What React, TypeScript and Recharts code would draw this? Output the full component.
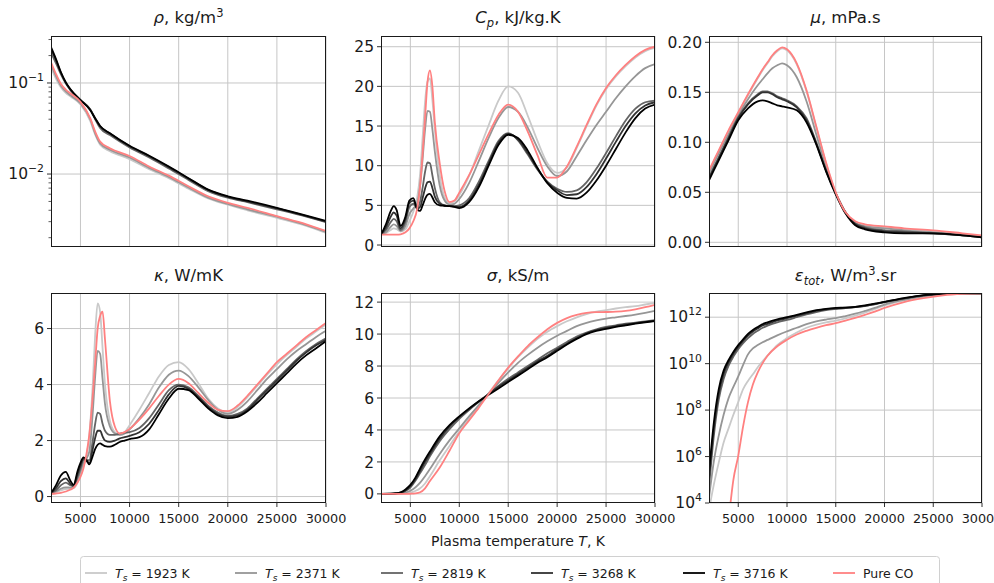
import React from 'react';
import { LineChart, Line, XAxis, YAxis, CartesianGrid } from 'recharts';

const FONT = "'DejaVu Sans', sans-serif";
const TXT = '#1a1a1a';
const GRID = '#c6c6c6';

const seriesKeys = ['s1923', 's2371', 's2819', 's3268', 's3716', 'pure'];
const seriesColors = ['#c9c9c9', '#969696', '#646464', '#323232', '#000000', '#ff8080'];
const surfaceTemps = ['1923', '2371', '2819', '3268', '3716'];
const xTicks = [5000, 10000, 15000, 20000, 25000, 30000];
const xDomain = [2000, 30000];

// ---- density rho, kg/m3 ----
const rhoT = [2000, 2500, 3000, 3500, 4000, 5000, 6000, 6500, 7000, 8000, 10000, 12000, 14000, 16000, 18000, 20000, 22000, 25000, 28000, 30000];
const rho1923 = [0.148, 0.112, 0.09, 0.078, 0.071, 0.058, 0.038, 0.027, 0.021, 0.0178, 0.0146, 0.0113, 0.009, 0.0069, 0.0054, 0.0046, 0.004, 0.0033, 0.0027, 0.00225];
const rho2371 = [0.16, 0.12, 0.094, 0.081, 0.073, 0.06, 0.04, 0.028, 0.0218, 0.0185, 0.0152, 0.0117, 0.0093, 0.0071, 0.0055, 0.0047, 0.0041, 0.0034, 0.00275, 0.00232];
const rho2819 = [0.215, 0.165, 0.125, 0.099, 0.083, 0.065, 0.051, 0.04, 0.032, 0.0268, 0.0196, 0.0152, 0.0115, 0.0086, 0.0065, 0.0055, 0.0049, 0.0041, 0.0034, 0.00295];
const rho3268 = [0.235, 0.178, 0.13, 0.101, 0.084, 0.065, 0.051, 0.041, 0.0335, 0.0278, 0.0202, 0.0157, 0.0119, 0.0089, 0.0067, 0.0056, 0.005, 0.0042, 0.00345, 0.003];
const rho3716 = [0.247, 0.184, 0.132, 0.102, 0.0846, 0.0647, 0.0503, 0.0408, 0.0337, 0.028, 0.0204, 0.0159, 0.0121, 0.009, 0.00675, 0.0057, 0.0051, 0.00426, 0.0035, 0.00305];
const rhoPure = [0.169, 0.126, 0.098, 0.0846, 0.0765, 0.062, 0.0408, 0.0292, 0.0227, 0.0192, 0.0158, 0.0121, 0.0096, 0.00733, 0.0057, 0.00483, 0.00426, 0.00345, 0.0028, 0.00237];

// ---- heat capacity Cp, kJ/kg.K ----
const cpT = [2000, 2500, 3000, 3300, 3600, 4000, 4500, 4900, 5300, 5700, 6000, 6250, 6500, 6750, 7000, 7250, 7500, 8000, 8500, 9000, 9500, 10000, 11000, 12000, 13000, 14000, 15000, 16000, 17000, 18000, 19000, 20000, 21000, 22000, 23000, 24000, 25000, 26000, 27000, 28000, 29000, 30000];
const cp1923 = [1.35, 1.5, 1.9, 2.1, 2.0, 1.7, 2.0, 3.0, 4.2, 6.0, 9.0, 13.5, 18.0, 20.6, 21.0, 18.3, 14.5, 8.8, 6.0, 5.3, 5.5, 6.3, 8.7, 11.9, 15.1, 18.2, 20.0, 19.2, 16.3, 13.1, 10.3, 9.1, 9.8, 12.25, 14.95, 17.55, 19.65, 21.25, 22.55, 23.65, 24.45, 24.85];
const cp2371 = [1.35, 1.6, 2.3, 2.6, 2.4, 1.8, 2.4, 3.9, 4.6, 5.3, 7.5, 10.8, 14.5, 16.9, 16.8, 14.6, 11.8, 7.5, 5.6, 5.1, 5.2, 5.8, 7.8, 10.6, 13.5, 16.0, 17.4, 16.8, 14.8, 12.2, 9.9, 8.7, 9.3, 11.2, 13.2, 15.1, 16.8, 18.5, 20.0, 21.3, 22.3, 22.8];
const cp2819 = [1.35, 1.9, 2.9, 3.3, 3.0, 1.9, 2.9, 4.8, 5.2, 4.7, 5.5, 7.2, 9.2, 10.4, 10.3, 8.8, 7.2, 5.4, 5.0, 4.9, 4.9, 5.0, 5.9, 8.0, 10.6, 13.1, 14.1, 13.2, 11.4, 9.5, 8.0, 7.1, 6.7, 6.9, 7.9, 9.6, 11.6, 13.7, 15.7, 17.2, 18.0, 18.2];
const cp3268 = [1.35, 2.2, 3.6, 4.1, 3.7, 2.1, 3.3, 5.3, 5.6, 4.6, 4.8, 5.9, 7.1, 7.9, 8.0, 7.2, 6.1, 5.2, 4.95, 4.9, 4.85, 4.8, 5.6, 7.6, 10.3, 12.9, 14.0, 13.3, 11.6, 9.6, 7.9, 6.9, 6.3, 6.4, 7.3, 8.9, 10.9, 13.0, 15.0, 16.6, 17.6, 18.0];
const cp3716 = [1.3, 2.6, 4.3, 4.9, 4.4, 2.4, 3.6, 5.6, 5.9, 4.5, 4.3, 5.0, 5.8, 6.35, 6.45, 6.0, 5.4, 5.0, 4.95, 4.9, 4.8, 4.65, 5.4, 7.3, 10.0, 12.6, 13.9, 13.5, 11.9, 9.7, 7.8, 6.6, 5.95, 5.85, 6.6, 8.1, 10.0, 12.1, 14.2, 16.0, 17.2, 17.7];
const cpPure = [1.3, 1.3, 1.3, 1.3, 1.3, 1.35, 1.6, 2.1, 3.0, 4.6, 7.5, 11.5, 16.0, 20.5, 22.0, 20.0, 15.5, 10.3, 6.8, 5.4, 5.6, 6.6, 8.8, 11.4, 14.0, 16.4, 17.7, 16.8, 14.3, 11.3, 8.5, 8.5, 9.9, 12.4, 15.1, 17.7, 19.8, 21.4, 22.7, 23.8, 24.6, 25.0];

// ---- viscosity mu, mPa.s ----
const muT = [2000, 3000, 4000, 5000, 6000, 7000, 7500, 8000, 8500, 9000, 9500, 10000, 11000, 12000, 13000, 14000, 15000, 16000, 17000, 18000, 20000, 22000, 25000, 28000, 30000];
const mu1923 = [0.071, 0.091, 0.111, 0.129, 0.147, 0.164, 0.172, 0.179, 0.186, 0.191, 0.194, 0.192, 0.178, 0.151, 0.115, 0.079, 0.049, 0.029, 0.02, 0.017, 0.015, 0.013, 0.011, 0.008, 0.006];
const mu2371 = [0.069, 0.089, 0.108, 0.127, 0.143, 0.157, 0.163, 0.169, 0.174, 0.177, 0.179, 0.177, 0.165, 0.141, 0.108, 0.075, 0.049, 0.029, 0.019, 0.016, 0.014, 0.012, 0.01, 0.008, 0.006];
const mu2819 = [0.065, 0.085, 0.105, 0.125, 0.139, 0.148, 0.151, 0.151, 0.149, 0.146, 0.144, 0.142, 0.136, 0.124, 0.1, 0.072, 0.049, 0.03, 0.019, 0.015, 0.012, 0.011, 0.009, 0.007, 0.005];
const mu3268 = [0.064, 0.084, 0.104, 0.124, 0.138, 0.147, 0.15, 0.15, 0.148, 0.145, 0.143, 0.141, 0.135, 0.122, 0.099, 0.072, 0.049, 0.03, 0.018, 0.014, 0.011, 0.01, 0.009, 0.007, 0.005];
const mu3716 = [0.062, 0.082, 0.102, 0.122, 0.134, 0.141, 0.142, 0.141, 0.139, 0.137, 0.136, 0.135, 0.132, 0.12, 0.098, 0.071, 0.048, 0.029, 0.017, 0.013, 0.01, 0.009, 0.009, 0.007, 0.005];
const muPure = [0.072, 0.092, 0.112, 0.13, 0.148, 0.165, 0.173, 0.18, 0.187, 0.192, 0.195, 0.193, 0.179, 0.152, 0.116, 0.08, 0.05, 0.03, 0.021, 0.018, 0.016, 0.014, 0.012, 0.009, 0.007];

// ---- thermal conductivity kappa, W/mK ----
const kT = [2000, 2500, 3000, 3500, 4000, 4300, 4700, 5000, 5300, 5600, 5900, 6250, 6500, 6750, 7000, 7250, 7500, 8000, 8500, 9000, 9500, 10000, 11000, 12000, 13000, 14000, 15000, 16000, 17000, 18000, 19000, 20000, 21000, 22000, 23000, 24000, 25000, 26000, 27000, 28000, 29000, 30000];
const k1923 = [0.12, 0.15, 0.22, 0.27, 0.28, 0.3, 0.5, 0.8, 1.1, 1.4, 2.2, 4.0, 5.8, 6.9, 6.6, 5.3, 4.0, 2.7, 2.3, 2.2, 2.3, 2.55, 3.1, 3.7, 4.3, 4.7, 4.8, 4.55, 4.05, 3.5, 3.15, 3.0, 3.2, 3.55, 3.95, 4.35, 4.72, 5.05, 5.35, 5.65, 5.9, 6.15];
const k2371 = [0.12, 0.18, 0.28, 0.33, 0.32, 0.35, 0.6, 0.9, 1.2, 1.35, 1.6, 3.0, 4.3, 5.2, 5.1, 4.2, 3.3, 2.5, 2.25, 2.2, 2.25, 2.4, 2.8, 3.3, 3.9, 4.35, 4.5, 4.3, 3.9, 3.45, 3.1, 2.95, 3.1, 3.4, 3.8, 4.2, 4.55, 4.9, 5.2, 5.45, 5.7, 5.92];
const k2819 = [0.12, 0.22, 0.4, 0.5, 0.4, 0.38, 0.7, 1.0, 1.3, 1.3, 1.3, 2.0, 2.6, 3.0, 2.95, 2.6, 2.35, 2.2, 2.2, 2.25, 2.28, 2.3, 2.45, 2.8, 3.3, 3.8, 4.0, 3.9, 3.6, 3.25, 3.0, 2.88, 2.95, 3.15, 3.5, 3.85, 4.2, 4.55, 4.9, 5.2, 5.45, 5.65];
const k3268 = [0.12, 0.3, 0.55, 0.65, 0.45, 0.38, 0.8, 1.1, 1.35, 1.3, 1.2, 1.7, 2.1, 2.35, 2.35, 2.15, 2.0, 1.95, 2.0, 2.08, 2.12, 2.17, 2.3, 2.6, 3.1, 3.65, 3.95, 3.85, 3.55, 3.2, 2.95, 2.85, 2.9, 3.1, 3.45, 3.8, 4.15, 4.5, 4.85, 5.15, 5.4, 5.6];
const k3716 = [0.12, 0.4, 0.75, 0.88, 0.55, 0.42, 0.9, 1.2, 1.4, 1.3, 1.15, 1.45, 1.7, 1.85, 1.9, 1.85, 1.8, 1.78, 1.85, 1.95, 2.0, 2.05, 2.12, 2.4, 2.95, 3.5, 3.85, 3.8, 3.5, 3.15, 2.9, 2.8, 2.85, 3.05, 3.35, 3.7, 4.05, 4.4, 4.75, 5.05, 5.3, 5.55];
const kPure = [0.1, 0.11, 0.13, 0.18, 0.25, 0.32, 0.5, 0.7, 1.0, 1.5, 2.2, 3.6, 4.8, 6.0, 6.45, 6.6, 5.6, 3.4, 2.5, 2.25, 2.3, 2.42, 2.75, 3.15, 3.6, 4.0, 4.2, 4.05, 3.7, 3.35, 3.1, 3.05, 3.25, 3.6, 4.0, 4.4, 4.8, 5.1, 5.4, 5.7, 5.95, 6.2];

// ---- electrical conductivity sigma, kS/m ----
const sT = [2000, 3000, 3500, 4000, 4500, 5000, 5500, 6000, 6500, 7000, 8000, 9000, 10000, 11000, 12000, 13000, 14000, 15000, 16000, 17000, 18000, 19000, 20000, 21000, 22000, 23000, 24000, 25000, 26000, 27000, 28000, 29000, 30000];
const s1923 = [0, 0, 0, 0.01, 0.03, 0.08, 0.18, 0.35, 0.65, 1.1, 2.1, 3.0, 3.9, 4.7, 5.5, 6.3, 7.1, 7.85, 8.55, 9.15, 9.7, 10.15, 10.5, 10.8, 11.05, 11.25, 11.4, 11.5, 11.6, 11.68, 11.75, 11.85, 11.95];
const s2371 = [0, 0, 0.01, 0.03, 0.08, 0.2, 0.4, 0.7, 1.1, 1.55, 2.5, 3.35, 4.1, 4.85, 5.55, 6.25, 6.95, 7.6, 8.2, 8.7, 9.15, 9.55, 9.9, 10.2, 10.5, 10.7, 10.85, 10.97, 11.05, 11.13, 11.22, 11.33, 11.45];
const s2819 = [0, 0, 0.02, 0.06, 0.18, 0.4, 0.8, 1.3, 1.8, 2.35, 3.3, 4.05, 4.7, 5.25, 5.75, 6.25, 6.75, 7.2, 7.6, 8.0, 8.4, 8.8, 9.15, 9.5, 9.85, 10.1, 10.3, 10.45, 10.55, 10.65, 10.72, 10.8, 10.87];
const s3268 = [0, 0.01, 0.03, 0.08, 0.22, 0.48, 0.9, 1.45, 2.0, 2.5, 3.45, 4.2, 4.8, 5.3, 5.8, 6.25, 6.7, 7.1, 7.5, 7.9, 8.3, 8.65, 9.05, 9.4, 9.75, 10.05, 10.25, 10.38, 10.5, 10.6, 10.68, 10.76, 10.83];
const s3716 = [0, 0.01, 0.04, 0.1, 0.28, 0.56, 1.0, 1.6, 2.15, 2.65, 3.6, 4.3, 4.85, 5.35, 5.8, 6.2, 6.6, 7.0, 7.4, 7.8, 8.2, 8.55, 8.95, 9.35, 9.7, 10.0, 10.2, 10.32, 10.45, 10.55, 10.65, 10.74, 10.82];
const sPure = [0, 0, 0, 0, 0, 0.01, 0.03, 0.1, 0.35, 0.8, 1.65, 2.7, 3.8, 4.6, 5.4, 6.25, 7.1, 7.9, 8.6, 9.25, 9.8, 10.3, 10.7, 11.0, 11.2, 11.33, 11.37, 11.38, 11.4, 11.45, 11.55, 11.68, 11.83];

// ---- total emission eps_tot, W/m3.sr ----
const eT = [2000, 2500, 3000, 3500, 4000, 4500, 5000, 5500, 6000, 6500, 7000, 7500, 8000, 9000, 10000, 11000, 12000, 13000, 14000, 15000, 16000, 17000, 18000, 19000, 20000, 22000, 24000, 26000, 28000, 30000];
const e1923 = [5e3, 6.3e4, 5.5e5, 4e6, 1.6e7, 6.3e7, 2.2e8, 8e8, 1.8e9, 3.5e9, 7e9, 1.26e10, 2.2e10, 6.3e10, 1.26e11, 2.2e11, 3.5e11, 4.8e11, 6e11, 7.1e11, 8.9e11, 1.17e12, 1.58e12, 2.2e12, 3.2e12, 5.2e12, 7.6e12, 9.5e12, 1.05e13, 1.05e13];
const e2371 = [1.6e4, 6.3e5, 8e6, 6.3e7, 3.2e8, 1e9, 2.8e9, 8.9e9, 2.5e10, 4.5e10, 6.3e10, 8.3e10, 1.05e11, 1.66e11, 2.45e11, 3.5e11, 5e11, 6.6e11, 7.9e11, 9.1e11, 1.12e12, 1.41e12, 1.86e12, 2.5e12, 3.5e12, 5.6e12, 7.9e12, 9.8e12, 1.05e13, 1.05e13];
const e2819 = [5e4, 8e6, 2.8e8, 2.2e9, 8e9, 2e10, 4.2e10, 7.6e10, 1.26e11, 1.9e11, 2.6e11, 3.5e11, 4.3e11, 6e11, 7.6e11, 1e12, 1.32e12, 1.66e12, 2e12, 2.24e12, 2.45e12, 2.7e12, 3e12, 3.6e12, 4.4e12, 6.3e12, 8.5e12, 1e13, 1.05e13, 1.05e13];
const e3268 = [1e5, 1.6e7, 5e8, 3.5e9, 1.1e10, 2.6e10, 5.2e10, 9.5e10, 1.6e11, 2.4e11, 3.3e11, 4.4e11, 5.2e11, 7.2e11, 9.1e11, 1.17e12, 1.48e12, 1.86e12, 2.2e12, 2.4e12, 2.57e12, 2.75e12, 3.1e12, 3.7e12, 4.5e12, 6.5e12, 8.7e12, 1e13, 1.05e13, 1.05e13];
const e3716 = [2e5, 3e7, 8e8, 5e9, 1.4e10, 3.2e10, 6.3e10, 1.1e11, 1.9e11, 2.8e11, 3.8e11, 5e11, 6e11, 8e11, 1e12, 1.25e12, 1.6e12, 2e12, 2.3e12, 2.5e12, 2.6e12, 2.8e12, 3.2e12, 3.8e12, 4.6e12, 6.6e12, 8.9e12, 1.02e13, 1.05e13, 1.05e13];
const ePure = [null, null, null, null, 1.6e3, 1e5, 1.07e6, 2e7, 2.2e8, 1.26e9, 4.2e9, 1.05e10, 2.2e10, 5.6e10, 1.07e11, 1.8e11, 2.6e11, 3.5e11, 4.5e11, 5.5e11, 7.1e11, 9.3e11, 1.26e12, 1.74e12, 2.5e12, 4.5e12, 6.6e12, 8.7e12, 1e13, 1.05e13];

// axis ticks
const rhoMajor = [0.01, 0.1];
const rhoMinor = [0.002, 0.003, 0.004, 0.005, 0.006, 0.007, 0.008, 0.009, 0.02, 0.03, 0.04, 0.05, 0.06, 0.07, 0.08, 0.09, 0.2, 0.3];
const cpTicks = [0, 5, 10, 15, 20, 25];
const muTicks = [0, 0.05, 0.1, 0.15, 0.2];
const kTicks = [0, 2, 4, 6];
const sTicks = [0, 2, 4, 6, 8, 10, 12];
const eTicks = [1e4, 1e6, 1e8, 1e10, 1e12];

function buildRows(T: number[], series: (number | null)[][]) {
  return T.map((t, i) => {
    const r: any = { T: t };
    seriesKeys.forEach((k, j) => {
      r[k] = series[j][i];
    });
    return r;
  });
}

const rhoData = buildRows(rhoT, [rho1923, rho2371, rho2819, rho3268, rho3716, rhoPure]);
const cpData = buildRows(cpT, [cp1923, cp2371, cp2819, cp3268, cp3716, cpPure]);
const muData = buildRows(muT, [mu1923, mu2371, mu2819, mu3268, mu3716, muPure]);
const kData = buildRows(kT, [k1923, k2371, k2819, k3268, k3716, kPure]);
const sData = buildRows(sT, [s1923, s2371, s2819, s3268, s3716, sPure]);
const eData = buildRows(eT, [e1923, e2371, e2819, e3268, e3716, ePure]);

const YW = 62;
const MT = 6;
const MR = 30;
const XH = 34;
const YFS = 15.5;

function YTick(props: any) {
  const { y, payload, majors, log, digits } = props;
  const v = payload.value;
  const isMajor = majors.some((m: number) => Math.abs(m - v) <= Math.abs(m) * 1e-9 + 1e-12);
  const ax = YW;
  let label: any = null;
  if (isMajor) {
    if (log) {
      const e = Math.round(Math.log10(v));
      const es = e < 0 ? '\u2212' + String(-e) : String(e);
      label = (
        <text x={ax - 7} y={y + 5} textAnchor="end" fontSize={YFS} fill={TXT} fontFamily={FONT}>
          10<tspan dy={-7} fontSize={YFS * 0.7}>{es}</tspan>
        </text>
      );
    } else {
      label = (
        <text x={ax - 7} y={y} dy="0.36em" textAnchor="end" fontSize={YFS} fill={TXT} fontFamily={FONT}>
          {v.toFixed(digits)}
        </text>
      );
    }
  }
  return (
    <g>
      <line x1={ax - (isMajor ? 4 : 2.5)} x2={ax} y1={y} y2={y} stroke={TXT} strokeWidth={isMajor ? 0.9 : 0.7} />
      {label}
    </g>
  );
}

function verticalGrid(p: any) {
  const xa = p && p.xAxis;
  const sc = xa && xa.scale;
  if (typeof sc === 'function') {
    return xTicks.map((v) => sc(v));
  }
  if (sc && typeof sc.map === 'function') {
    return xTicks.map((v) => sc.map(v));
  }
  const off = p.offset;
  return xTicks.map((v) => off.left + ((v - xDomain[0]) / (xDomain[1] - xDomain[0])) * off.width);
}

function Panel(props: any) {
  const { px, py, pw, ph, data, domain, majors, minors, log, digits, showX } = props;
  const W = YW + pw + MR;
  const H = MT + ph + XH;
  const allTicks = minors ? [...majors, ...minors].sort((a, b) => a - b) : majors;
  return (
    <div style={{ position: 'absolute', left: px - YW, top: py - MT, width: W, height: H }}>
      <LineChart width={W} height={H} data={data} margin={{ top: MT, right: MR, bottom: 0, left: 0 }}>
        <CartesianGrid
          stroke={GRID}
          strokeWidth={1}
          horizontalValues={majors}
          verticalCoordinatesGenerator={verticalGrid}
        />
        <XAxis
          dataKey="T"
          type="number"
          domain={xDomain}
          ticks={xTicks}
          allowDataOverflow
          interval={0}
          height={XH}
          axisLine={false}
          tickSize={4}
          tickMargin={7}
          tickLine={{ stroke: TXT, strokeWidth: 0.9 }}
          tick={showX ? { fontSize: 12.8, fill: TXT, fontFamily: FONT } : false}
        />
        <YAxis
          type="number"
          scale={log ? 'log' : 'linear'}
          domain={domain}
          allowDataOverflow
          ticks={allTicks}
          interval={0}
          width={YW}
          axisLine={false}
          tickLine={false}
          tick={<YTick majors={majors} log={log} digits={digits} />}
        />
        {seriesKeys.map((k, i) => (
          <Line
            key={k}
            dataKey={k}
            type="monotone"
            stroke={seriesColors[i]}
            strokeWidth={1.8}
            dot={false}
            isAnimationActive={false}
            connectNulls={false}
          />
        ))}
      </LineChart>
      <div
        style={{
          position: 'absolute',
          left: YW,
          top: MT,
          width: pw,
          height: ph,
          border: '1px solid ' + TXT,
          boxSizing: 'border-box',
          pointerEvents: 'none',
        }}
      />
    </div>
  );
}

const COLS = [
  { x: 51, w: 275 },
  { x: 381, w: 274 },
  { x: 709, w: 273 },
];
const ROWS = [
  { y: 36, h: 211 },
  { y: 293, h: 210 },
];

function Title({ cx, y, children }: any) {
  return (
    <text x={cx} y={y} textAnchor="middle" fontSize={16.5} fill={TXT} fontFamily={FONT}>
      {children}
    </text>
  );
}

export default function App() {
  const cx = (c: number) => COLS[c].x + COLS[c].w / 2;
  const t1 = ROWS[0].y - 13;
  const t2 = ROWS[1].y - 12;
  const legendX = [85, 235, 381, 531, 683, 833];
  return (
    <div style={{ position: 'absolute', left: 0, top: 0, width: 994, height: 583, overflow: 'hidden', background: '#fff' }}>
      <Panel px={COLS[0].x} py={ROWS[0].y} pw={COLS[0].w} ph={ROWS[0].h} data={rhoData} domain={[0.00158, 0.328]} majors={rhoMajor} minors={rhoMinor} log digits={0} showX={false} />
      <Panel px={COLS[1].x} py={ROWS[0].y} pw={COLS[1].w} ph={ROWS[0].h} data={cpData} domain={[-0.25, 26.35]} majors={cpTicks} digits={0} showX={false} />
      <Panel px={COLS[2].x} py={ROWS[0].y} pw={COLS[2].w} ph={ROWS[0].h} data={muData} domain={[-0.0047, 0.2063]} majors={muTicks} digits={2} showX={false} />
      <Panel px={COLS[0].x} py={ROWS[1].y} pw={COLS[0].w} ph={ROWS[1].h} data={kData} domain={[-0.23, 7.27]} majors={kTicks} digits={0} showX />
      <Panel px={COLS[1].x} py={ROWS[1].y} pw={COLS[1].w} ph={ROWS[1].h} data={sData} domain={[-0.57, 12.57]} majors={sTicks} digits={0} showX />
      <Panel px={COLS[2].x} py={ROWS[1].y} pw={COLS[2].w} ph={ROWS[1].h} data={eData} domain={[1e4, 1.1e13]} majors={eTicks} log digits={0} showX />
      <svg width={994} height={583} style={{ position: 'absolute', left: 0, top: 0, pointerEvents: 'none' }}>
        <Title cx={cx(0)} y={t1}>
          <tspan fontStyle="italic">ρ</tspan>, kg/m<tspan dy={-6} fontSize={11.5}>3</tspan>
        </Title>
        <Title cx={cx(1)} y={t1}>
          <tspan fontStyle="italic">C</tspan>
          <tspan fontStyle="italic" dy={4} fontSize={11.5}>p</tspan>
          <tspan dy={-4}>, kJ/kg.K</tspan>
        </Title>
        <Title cx={cx(2)} y={t1}>
          <tspan fontStyle="italic">μ</tspan>, mPa.s
        </Title>
        <Title cx={cx(0)} y={t2}>
          <tspan fontStyle="italic">κ</tspan>, W/mK
        </Title>
        <Title cx={cx(1)} y={t2}>
          <tspan fontStyle="italic">σ</tspan>, kS/m
        </Title>
        <Title cx={cx(2)} y={t2}>
          <tspan fontStyle="italic">ε</tspan>
          <tspan fontStyle="italic" dy={4} fontSize={11.5}>tot</tspan>
          <tspan dy={-4}>, W/m</tspan>
          <tspan dy={-6} fontSize={11.5}>3</tspan>
          <tspan dy={6}>.sr</tspan>
        </Title>
        <text x={cx(1)} y={546} textAnchor="middle" fontSize={14} fill={TXT} fontFamily={FONT}>
          Plasma temperature <tspan fontStyle="italic">T</tspan>, K
        </text>
        <rect x={80.5} y={556.5} width={859} height={40} rx={3} fill="#fff" stroke="#d0d0d0" strokeWidth={1} />
        {legendX.map((lx, i) => (
          <g key={i}>
            <line x1={lx} x2={lx + 22} y1={573} y2={573} stroke={seriesColors[i]} strokeWidth={1.8} />
            <text x={lx + 30} y={577.5} fontSize={12.5} fill={TXT} fontFamily={FONT}>
              {i < 5 ? (
                <>
                  <tspan fontStyle="italic">T</tspan>
                  <tspan fontStyle="italic" dy={3} fontSize={9}>s</tspan>
                  <tspan dy={-3}>{' = ' + surfaceTemps[i] + ' K'}</tspan>
                </>
              ) : (
                'Pure CO'
              )}
            </text>
          </g>
        ))}
      </svg>
    </div>
  );
}
